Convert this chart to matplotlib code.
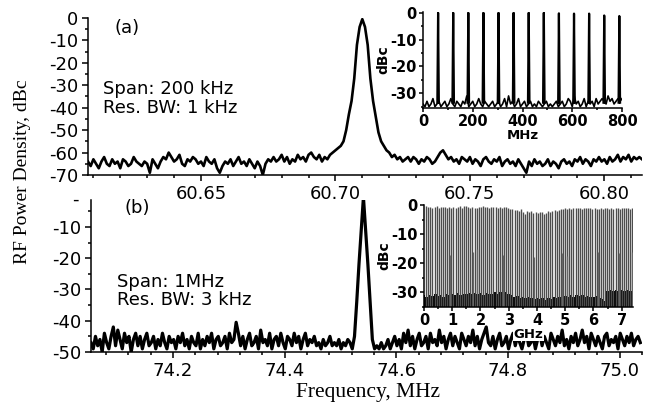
import numpy as np
import matplotlib.pyplot as plt
from matplotlib.ticker import MultipleLocator

plt.rcParams['font.family'] = 'DejaVu Sans'
plt.rcParams['axes.unicode_minus'] = False

# (a) 200 kHz span around the fundamental, 1 kHz steps
a_start, a_stop = 60.608, 60.814
a_db = [
    -64, -66, -63, -65, -67, -64, -62, -65, -66, -63,
    -65, -64, -67, -63, -64, -66, -65, -62, -64, -65,
    -66, -64, -65, -69, -63, -65, -67, -64, -62, -63,
    -60, -62, -64, -63, -61, -65, -66, -63, -64, -62,
    -63, -65, -64, -66, -62, -64, -65, -63, -67, -69,
    -66, -64, -65, -63, -66, -64, -62, -65, -64, -66,
    -63, -65, -67, -64, -66, -70, -65, -63, -64, -62,
    -64, -63, -61, -64, -62, -65, -63, -64, -61, -63,
    -62, -64, -61, -60, -62, -63, -61, -64, -62, -63,
    -61, -60, -59, -58, -57, -55, -50, -43, -37, -27,
    -12, -4, -0.5, -4, -12, -27, -37, -44, -51, -55,
    -57, -59, -60, -62, -61, -63, -62, -64, -63, -62,
    -64, -62, -63, -65, -63, -64, -62, -63, -65, -64,
    -62, -60, -59, -61, -63, -62, -64, -63, -65, -62,
    -63, -64, -62, -65, -63, -64, -66, -63, -62, -64,
    -65, -63, -64, -62, -66, -64, -63, -65, -64, -66,
    -63, -65, -67, -69, -64, -66, -63, -65, -64, -66,
    -65, -63, -66, -64, -65, -67, -64, -63, -65, -64,
    -66, -63, -64, -62, -65, -63, -64, -66, -63, -64,
    -62, -64, -63, -65, -62, -64, -63, -61, -64, -62,
    -63, -61, -64, -62, -63, -62, -63,
]

# (b) 1 MHz span, 4 kHz steps
b_start, b_stop = 74.053, 75.037
b_db = [
    -47, -49, -45, -48, -46, -50, -44, -47, -49, -45,
    -42, -48, -43, -46, -49, -44, -47, -45, -50, -46,
    -44, -48, -45, -49, -46, -44, -48, -47, -45, -49,
    -46, -48, -44, -47, -49, -45, -47, -46, -49, -45,
    -47, -44, -48, -46, -49, -45, -47, -48, -44, -49,
    -46, -48, -45, -47, -44, -49, -46, -45, -48, -47,
    -45, -49, -44, -47, -46, -40.5, -44, -48, -45, -49,
    -46, -44, -48, -47, -45, -49, -43, -47, -46, -48,
    -44, -49, -46, -45, -48, -44, -47, -49, -45, -46,
    -48, -44, -47, -45, -49, -46, -44, -48, -46, -47,
    -45, -48, -47, -49, -46, -48, -47, -45, -48, -47,
    -48, -46, -49, -47, -48, -46, -47, -49, -45, -34,
    -22, -11, -0.5, -11, -22, -34, -46, -49, -48, -49,
    -47, -49, -48, -46, -49, -47, -45, -48, -46, -49,
    -44, -47, -43, -48, -45, -49, -46, -44, -48, -47,
    -45, -49, -44, -47, -46, -48, -43, -47, -45, -49,
    -46, -44, -48, -45, -47, -49, -44, -46, -48, -45,
    -47, -43, -48, -45, -49, -46, -44, -42, -47, -48,
    -45, -49, -46, -44, -48, -47, -45, -49, -46, -44,
    -48, -45, -47, -49, -46, -44, -48, -47, -45, -49,
    -46, -44, -48, -45, -47, -49, -44, -46, -48, -45,
    -47, -43, -48, -46, -49, -45, -47, -44, -48, -46,
    -43, -47, -45, -49, -44, -46, -48, -45, -47, -49,
    -45, -44, -48, -46, -47, -45, -49, -44, -46, -48,
    -45, -47, -44, -48, -46, -45, -47,
]

# inset (a): 0-800 MHz, noise floor every 8 MHz + comb lines
ia_floor = [
    -34, -35, -33, -35, -34, -32, -35, -34, -33, -35,
    -34, -33, -35, -34, -32, -34, -35, -33, -34, -35,
    -33, -34, -31, -35, -34, -33, -35, -34, -32, -34,
    -35, -33, -34, -35, -34, -33, -35, -34, -33, -35,
    -34, -32, -35, -31, -34, -33, -35, -34, -32, -35,
    -34, -33, -35, -34, -33, -35, -34, -35, -33, -34,
    -35, -34, -33, -35, -34, -35, -34, -33, -35, -34,
    -33, -35, -34, -32, -33, -35, -31, -34, -33, -35,
    -34, -32, -35, -33, -34, -33, -35, -32, -34, -33,
    -32, -33, -34, -31, -33, -32, -34, -33, -32, -33, -32,
]
ia_peak_f = [60.7, 121.4, 182.1, 242.8, 303.6, 364.3, 425.0,
             485.7, 546.4, 607.1, 667.8, 728.5, 789.2]
ia_peak_db = [0, 0, 0, 0, 0, 0, 0, 0, -0.2, -0.3, -0.3, -1.0, -1.2]

# inset (b): 0-7.4 GHz, floor top every 0.1 GHz + comb lines
ib_floor = [
    -31, -31.5, -30.8, -31.2, -30.6, -31.3, -30.9, -31.4, -30.7, -31,
    -30.5, -30.9, -30.3, -30.8, -30.4, -30.6, -30.2, -30.7, -30.1, -30.5,
    -30.3, -30.8, -30.2, -30.6, -30.4, -30, -30.5, -29.8, -29.5, -29.9,
    -30.6, -31, -31.4, -31.2, -31.8, -31.5, -32, -31.6, -31.9, -32.2,
    -31.8, -32.3, -32, -32.5, -31.9, -32.2, -31.7, -32, -31.5, -31.8,
    -31.2, -31.5, -31, -31.4, -30.9, -31.3, -31, -31.5, -31.1, -31.4,
    -31.6, -31.2, -31.8, -32.4, -33, -29.5, -29.2, -29.6, -29.3, -29.5,
    -29.2, -29.6, -29.3, -29.5, -29.4,
]
rep_rate_ghz = 0.07454
ib_peak_db = [
    -0.5, -0.8, -0.6, -1, -0.7, -0.5, -0.9, -0.6, -0.8, -0.7,
    -1, -0.6, -0.9, -0.7, -1.1, -0.8, -0.5, -0.9, -0.4, -0.2,
    -0.8, -1.2, -0.7, -1, -0.9, -0.6, -0.8, -0.5, -0.7, -0.6,
    -0.9, -0.7, -0.6, -0.8, -1, -0.7, -0.9, -0.6, -0.8, -1.2,
    -1.5, -1.3, -1.8, -1.6, -2, -1.4, -2.3, -3.2, -1.9, -2.5,
    -2.2, -2.6, -2.4, -2.8, -2.5, -2.3, -3, -2.6, -2.2, -2.4,
    -2, -1.8, -2.1, -1.6, -1.4, -1.5, -1.2, -1.4, -1.1, -1.3,
    -1, -1.2, -0.9, -1.1, -1.3, -1, -1.2, -0.9, -1.1, -1.4,
    -1.2, -1.5, -1.3, -1.1, -1.4, -1.2, -1, -1.3, -1.1, -1.4,
    -1.2, -1, -1.3, -1.1, -0.9, -1.2, -1, -1.3, -1.1,
]
ib_ghost_f = [0.93, 1.72, 1.87, 2.8, 3.9, 4.87, 5.08, 6.15, 6.9, 7.35]
ib_ghost_db = [-17, -16, -15, -17, -18, -16.5, -17.5, -16, -16.5, -16]

W, H = 647, 407


def box(l, t, r, b):
    return [l / W, 1 - b / H, (r - l) / W, (b - t) / H]


def style(ax, size, weight='normal', length=4, pad=3):
    for s in ['top', 'right']:
        ax.spines[s].set_visible(False)
    for s in ['left', 'bottom']:
        ax.spines[s].set_linewidth(1.1)
    ax.tick_params(which='both', direction='out', width=1.1,
                   labelsize=size, pad=pad)
    ax.tick_params(which='major', length=length)
    ax.tick_params(which='minor', length=length * 0.6)
    for lab in ax.get_xticklabels() + ax.get_yticklabels():
        lab.set_fontweight(weight)


fig = plt.figure(figsize=(6.47, 4.07), dpi=100)

# ---- panel (a)
ax1 = fig.add_axes(box(88, 18, 642, 175))
xa = np.linspace(a_start, a_stop, len(a_db))
ax1.plot(xa, a_db, color='black', lw=1.9)
ax1.set_xlim(a_start, a_stop)
ax1.set_ylim(-70, 0)
ax1.xaxis.set_major_locator(MultipleLocator(0.05))
ax1.xaxis.set_minor_locator(MultipleLocator(0.01))
ax1.yaxis.set_major_locator(MultipleLocator(10))
ax1.yaxis.set_minor_locator(MultipleLocator(5))
ax1.set_xticks([60.65, 60.70, 60.75, 60.80])
ax1.set_xticklabels(['60.65', '60.70', '60.75', '60.80'])
style(ax1, 13)

# ---- panel (b)
ax2 = fig.add_axes(box(91, 200, 642, 352))
xb = np.linspace(b_start, b_stop, len(b_db))
ax2.plot(xb, b_db, color='black', lw=2.3)
ax2.set_xlim(b_start, 75.04)
ax2.set_ylim(-50, -1.4)
ax2.xaxis.set_major_locator(MultipleLocator(0.2))
ax2.xaxis.set_minor_locator(MultipleLocator(0.04))
ax2.yaxis.set_major_locator(MultipleLocator(10))
ax2.yaxis.set_minor_locator(MultipleLocator(5))
style(ax2, 13)

# ---- inset (a)
ia = fig.add_axes(box(423, 12, 622, 108))
fa = np.linspace(0, 800, len(ia_floor))
ia.plot(fa, ia_floor, color='black', lw=1.2)
for f, h in zip(ia_peak_f, ia_peak_db):
    ia.plot([f - 3, f, f + 3], [-33.5, h, -33.5], color='black', lw=1.6)
ia.set_xlim(0, 800)
ia.set_ylim(-35.5, 0.3)
ia.xaxis.set_major_locator(MultipleLocator(200))
ia.xaxis.set_minor_locator(MultipleLocator(100))
ia.yaxis.set_major_locator(MultipleLocator(10))
ia.yaxis.set_minor_locator(MultipleLocator(5))
ia.patch.set_alpha(0)
style(ia, 10.5, 'bold', 3, 1.5)
ia.set_ylabel('dBc', fontsize=10, fontweight='bold', labelpad=0)
ia.set_xlabel('MHz', fontsize=9.5, fontweight='bold', labelpad=-0.5)

# ---- inset (b)
ib = fig.add_axes(box(424, 205, 633, 307))
ib.set_zorder(3)
fb = np.linspace(0, 7.4, len(ib_floor))
comb = rep_rate_ghz * np.arange(1, len(ib_peak_db) + 1)
ib.vlines(comb, -35, ib_peak_db, color='0.3', lw=1.0)
ib.vlines(ib_ghost_f, -35, ib_ghost_db, color='0.4', lw=0.9)
ib.fill_between(fb, -35, ib_floor, step='mid', color='black', lw=0)
ib.set_xlim(0, 7.4)
ib.set_ylim(-35, 0)
ib.xaxis.set_major_locator(MultipleLocator(1))
ib.xaxis.set_minor_locator(MultipleLocator(0.5))
ib.yaxis.set_major_locator(MultipleLocator(10))
ib.yaxis.set_minor_locator(MultipleLocator(5))
ib.patch.set_alpha(0)
style(ib, 10.5, 'bold', 3, 1.5)
ib.set_ylabel('dBc', fontsize=10, fontweight='bold', labelpad=0)
ib.set_xlabel('GHz', fontsize=9.5, fontweight='bold', labelpad=-0.5,
              bbox=dict(facecolor='white', edgecolor='none', pad=0.3))


def ptext(x, y, s, **kw):
    fig.text(x / W, 1 - y / H, s, **kw)


ptext(115, 33, '(a)', fontsize=13)
ptext(103, 94, 'Span: 200 kHz', fontsize=13)
ptext(103, 113, 'Res. BW: 1 kHz', fontsize=13)
ptext(125, 213, '(b)', fontsize=13)
ptext(117, 287, 'Span: 1MHz', fontsize=13)
ptext(117, 305, 'Res. BW: 3 kHz', fontsize=13)
ptext(75, 200, '-', fontsize=13, ha='center', va='center')

ptext(23, 172, 'RF Power Density, dBc', fontsize=14, rotation=90,
      ha='center', va='center', family='Liberation Serif')
ptext(368, 393, 'Frequency, MHz', fontsize=15.5, ha='center', va='center',
      family='Liberation Serif')

fig.savefig('out.png', dpi=100)
